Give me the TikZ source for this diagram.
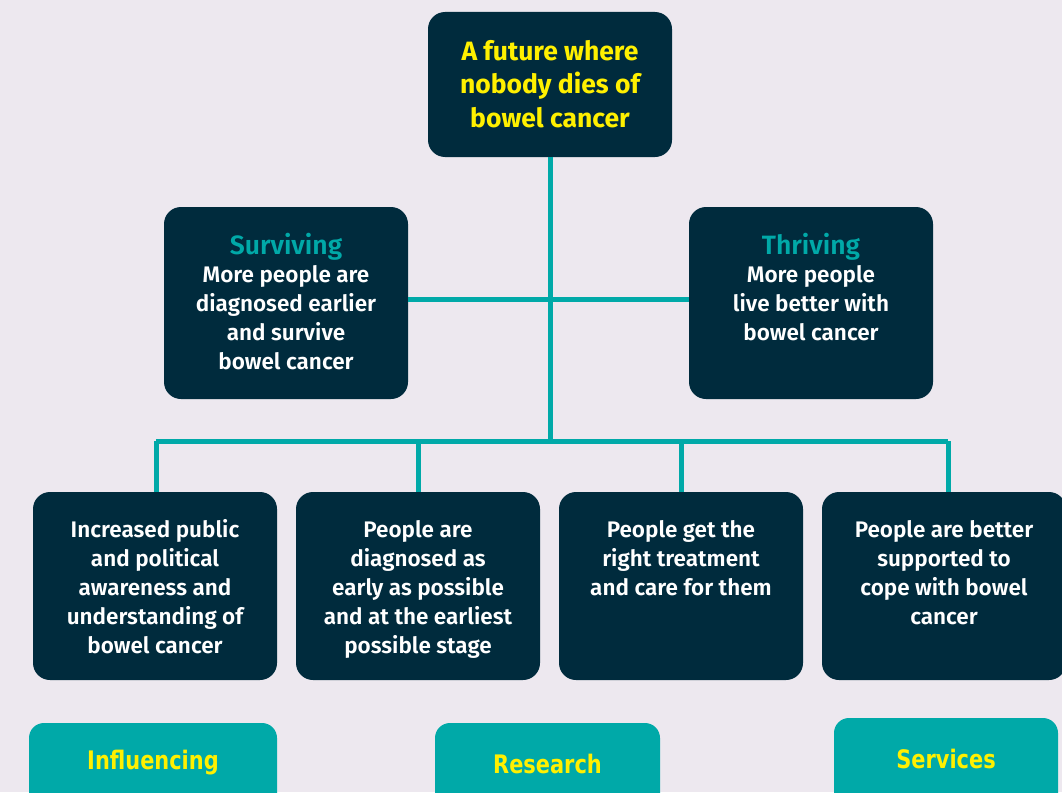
\documentclass[tikz,border=0pt]{standalone}
\usepackage{fontspec}
\setmainfont{Fira Sans}[UprightFont={* SemiBold},BoldFont={* Bold}]
\newfontfamily\condfont[FakeStretch=0.82]{DejaVu Sans}
\definecolor{bgc}{HTML}{EDE8EF}
\definecolor{navy}{HTML}{002B3D}
\definecolor{tealc}{HTML}{00A9A8}
\definecolor{yel}{HTML}{FFF000}
\tikzset{
  darkbox/.style={draw=none,fill=navy,rounded corners=17pt,minimum width=244pt,inner sep=0pt},
  tealbox/.style={draw=none,fill=tealc,rounded corners=15pt,inner sep=0pt},
  conn/.style={draw=tealc,line width=5pt},
  bodytxt/.style={text=white,align=center,inner sep=0pt,font=\fontsize{22.5}{29}\selectfont},
  toptxt/.style={text=yel,align=center,inner sep=0pt,font=\fontsize{26.5}{33.5}\selectfont\bfseries},
  headtxt/.style={text=tealc,inner sep=0pt,font=\fontsize{26.5}{29}\selectfont},
  labtxt/.style={text=yel,inner sep=0pt,font=\fontsize{25.5}{26}\selectfont\condfont\bfseries}
}
\begin{document}
\begin{tikzpicture}[x=1pt,y=-1pt]
\useasboundingbox (0,0) rectangle (1062,792);
\clip (0,0) rectangle (1062,792);
\fill[bgc] (0,0) rectangle (1062,792);
\coordinate (hub) at (550,441);
\coordinate (mid) at (550,299);
\coordinate (j1) at (156,441);
\coordinate (j2) at (418,441);
\coordinate (j3) at (681,441);
\coordinate (j4) at (948,441);
% boxes
\node[darkbox,minimum width=244pt,minimum height=145pt] (top) at (550,84.5) {};
\node[darkbox,minimum height=192pt] (surv) at (286,303) {};
\node[darkbox,minimum height=192pt] (thr) at (811,303) {};
\node[darkbox,minimum height=188pt] (b1) at (155,586) {};
\node[darkbox,minimum height=188pt] (b2) at (418,586) {};
\node[darkbox,minimum height=188pt] (b3) at (681,586) {};
\node[darkbox,minimum height=188pt] (b4) at (944,586) {};
\node[tealbox,minimum width=248pt,minimum height=110pt] (inf) at (153,778) {};
\node[tealbox,minimum width=225pt,minimum height=110pt] (res) at (547.5,778) {};
\node[tealbox,minimum width=224pt,minimum height=110pt] (ser) at (946,773) {};
% connectors
\draw[conn] (top.south) -- (hub);
\draw[conn] (surv.east |- mid) -- (thr.west |- mid);
\draw[conn] (j1) -- (j4);
\draw[conn] (j1) -- (j1 |- b1.north);
\draw[conn] (j2) -- (j2 |- b2.north);
\draw[conn] (j3) -- (j3 |- b3.north);
\draw[conn] (j4) -- (j4 |- b4.north);
% texts
\node[toptxt] (toptext) at (550,84) {A future where\\nobody dies of\\bowel cancer};
\node[headtxt] (survh) at (286,246.5) {Surviving};
\node[bodytxt] (survt) at (286,318) {More people are\\diagnosed earlier\\and survive\\bowel cancer};
\node[headtxt] (thrh) at (811,246.5) {Thriving};
\node[bodytxt] (thrt) at (811,303.5) {More people\\live better with\\bowel cancer};
\node[bodytxt] (b1t) at (155,587) {Increased public\\and political\\awareness and\\understanding of\\bowel cancer};
\node[bodytxt] (b2t) at (418,589) {People are\\diagnosed as\\early as possible\\and at the earliest\\possible stage};
\node[bodytxt] (b3t) at (681,558) {People get the\\right treatment\\and care for them};
\node[bodytxt] (b4t) at (944,572.5) {People are better\\supported to\\cope with bowel\\cancer};
\node[labtxt] (inft) at (153,763) {Influencing};
\node[labtxt] (rest) at (547.5,764) {Research};
\node[labtxt] (sert) at (946,759) {Services};
\end{tikzpicture}
\end{document}
